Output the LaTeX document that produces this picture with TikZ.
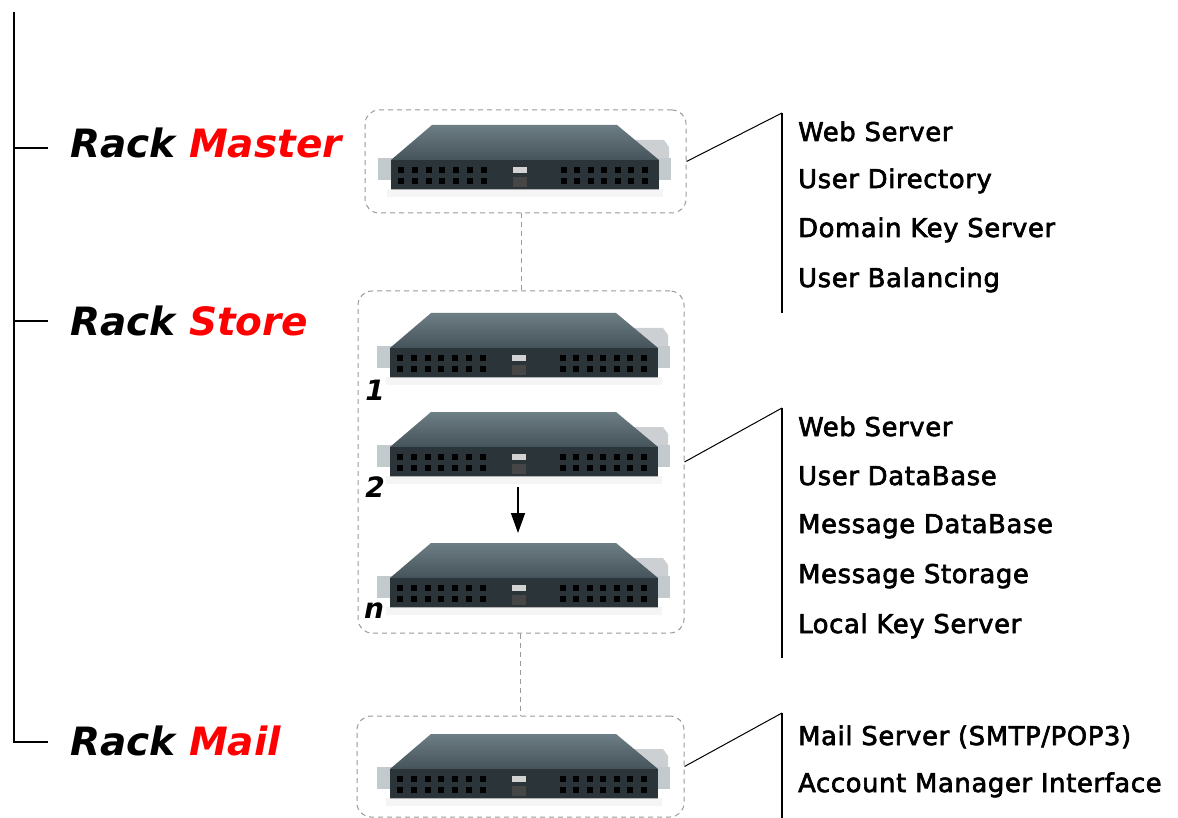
\documentclass[tikz,border=0pt]{standalone}
\usepackage{fontspec}
\setmainfont{DejaVu Sans}
\newfontfamily\listfont{DejaVu Sans}[FakeBold=2.5, LetterSpace=2.5]
\usetikzlibrary{arrows.meta,calc}
\definecolor{boxgray}{HTML}{9A9A9A}
\definecolor{srvtop}{HTML}{6E7E85}
\definecolor{srvtopdark}{HTML}{45535A}
\definecolor{srvfront}{HTML}{2B3438}
\definecolor{earcol}{HTML}{C3CACE}
\definecolor{psucol}{HTML}{CDD0D2}
\definecolor{rackred}{HTML}{FF0000}
\tikzset{
  rackbox/.style={draw=boxgray, line width=1pt, dash pattern=on 5pt off 4pt,
    rounded corners=14pt, rectangle, inner sep=0pt},
  dashlink/.style={draw=boxgray, line width=1pt, dash pattern=on 5pt off 4pt},
  solidlink/.style={draw=black, line width=1pt},
  treeline/.style={draw=black, line width=1.5pt},
  racklabel/.style={anchor=base west, inner sep=0pt, font=\fontsize{39}{44}\selectfont\bfseries\itshape},
  numlabel/.style={inner sep=0pt, font=\fontsize{28}{30}\selectfont\bfseries\itshape},
  listtext/.style={anchor=base west, inner sep=0pt, font=\fontsize{25.8}{30}\listfont},
  server/.pic={
    \fill[gray!8] (-138,29) rectangle (138,37);
    \fill[psucol] (108,-20) -- (139,-20) -- (144,-13) -- (144,12) -- (110,12) -- cycle;
    \fill[earcol] (-147,-2) rectangle (-131,20);
    \fill[earcol] (131,-2) rectangle (146,20);
    \shade[top color=srvtop, bottom color=srvtopdark] (-93,-35) -- (92,-35) -- (134,0) -- (-134,0) -- cycle;
    \fill[srvfront] (-134,0) rectangle (134,29);
    \draw[gray!60, line width=0.6pt] (-134,29) -- (134,29);
    \foreach \px in {-124,-110,-96,-83,-69,-55,-41,39,52,66,79,93,106,120}{
      \foreach \py in {10,21}{
        \fill[black] (\px-3,\py-3) rectangle (\px+3,\py+3);
      }
    }
    \fill[gray!35] (-12,7) rectangle (2,13);
    \fill[gray!55!black] (-12,17) rectangle (2,27);
  }
}
\begin{document}
\begin{tikzpicture}[x=1pt,y=-1pt]
\useasboundingbox (0,0) rectangle (1178,818);
\fill[white] (0,0) rectangle (1178,818);

% left tree
\coordinate (ltop) at (14,12);
\coordinate (lm) at (14,148);
\coordinate (ls) at (14,321);
\coordinate (lb) at (14,742);
\coordinate (lmt) at (48,148);
\coordinate (lst) at (48,321);
\coordinate (lbt) at (48,742);
\draw[treeline] (ltop) -- (lb) -- (lbt);
\draw[treeline] (lm) -- (lmt);
\draw[treeline] (ls) -- (lst);

\node[racklabel] (rmaster) at (70,158) {Rack \textcolor{rackred}{Master}};
\node[racklabel] (rstore) at (70,335) {Rack \textcolor{rackred}{Store}};
\node[racklabel] (rmail) at (70,755) {Rack \textcolor{rackred}{Mail}};

% boxes
\node[rackbox, minimum width=321pt, minimum height=103pt] (master) at (525.5,161.5) {};
\node[rackbox, minimum width=326pt, minimum height=342pt] (store) at (521,462) {};
\node[rackbox, minimum width=327pt, minimum height=101pt] (mail) at (520.5,766.5) {};

\draw[dashlink] (master.south -| store.north) -- (store.north);
\draw[dashlink] (store.south -| mail.north) -- (mail.north);

% servers
\pic at (525,160) {server};
\pic at (524,348) {server};
\pic at (524,447) {server};
\pic at (524,578) {server};
\pic at (524,769) {server};

\node[numlabel] (n1) at (375,390) {1};
\node[numlabel] (n2) at (375,487) {2};
\node[numlabel, anchor=base] (nn) at (374,618) {n};

\coordinate (arrS) at (518,487);
\coordinate (arrE) at (518,533);
\draw[line width=1.5pt, -{Triangle[width=14pt,length=20pt]}] (arrS) -- (arrE);

% right lists
\coordinate (mvt) at (782,113);
\coordinate (mvb) at (782,313);
\draw[solidlink] (master.east) -- (mvt);
\draw[treeline] (mvt) -- (mvb);
\node[listtext] (m1) at (798,141) {Web Server};
\node[listtext] (m2) at (798,188) {User Directory};
\node[listtext] (m3) at (798,237) {Domain Key Server};
\node[listtext] (m4) at (798,287) {User Balancing};

\coordinate (svt) at (782,408);
\coordinate (svb) at (782,658);
\draw[solidlink] (store.east) -- (svt);
\draw[treeline] (svt) -- (svb);
\node[listtext] (s1) at (798,436) {Web Server};
\node[listtext] (s2) at (798,485) {User DataBase};
\node[listtext] (s3) at (798,533) {Message DataBase};
\node[listtext] (s4) at (798,583) {Message Storage};
\node[listtext] (s5) at (798,633) {Local Key Server};

\coordinate (lvt) at (782,713);
\coordinate (lvb) at (782,818);
\draw[solidlink] (mail.east) -- (lvt);
\draw[treeline] (lvt) -- (lvb);
\node[listtext] (a1) at (798,745) {Mail Server (SMTP/POP3)};
\node[listtext] (a2) at (798,792) {Account Manager Interface};
\end{tikzpicture}
\end{document}
